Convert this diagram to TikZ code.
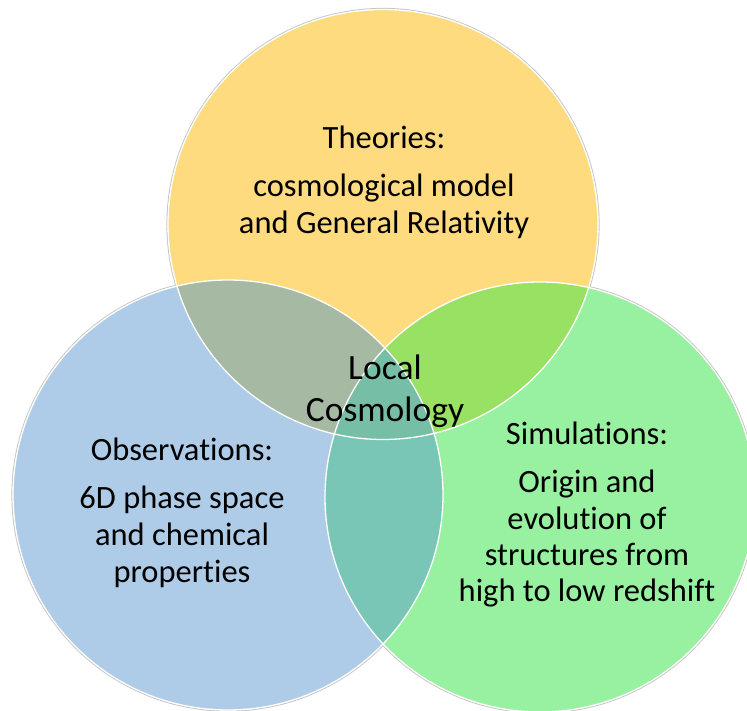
\documentclass[tikz,border=0pt]{standalone}
\usepackage{fontspec}
\setmainfont[Ligatures=NoCommon]{Carlito}
\definecolor{cTheo}{RGB}{255,219,128}
\definecolor{cObs}{RGB}{174,204,232}
\definecolor{cSim}{RGB}{152,241,160}
\definecolor{cTO}{RGB}{166,185,162}
\definecolor{cTS}{RGB}{152,225,98}
\definecolor{cOS}{RGB}{122,198,182}
\definecolor{cAll}{RGB}{118,190,166}
\tikzset{
  ring/.style={draw=black!22, line width=1.2pt},
  rim/.style={draw=white, line width=1.3pt},
  lbl/.style={anchor=base, inner sep=0pt, font=\fontsize{32.5pt}{39pt}\selectfont, text=black},
  mid/.style={lbl, font=\fontsize{35.5pt}{42pt}\selectfont},
}
\newcommand{\rr}{215pt}
\begin{document}
\begin{tikzpicture}[x=1pt,y=-1pt]
  \fill[white] (0,0) rectangle (747,711);
  \useasboundingbox (0,0) rectangle (747,711);
  \coordinate (T) at (383,224.5);
  \coordinate (O) at (228,495);
  \coordinate (S) at (540,497);
  % soft outer edges
  \foreach \c in {T,O,S} \draw[ring] (\c) circle[radius=216pt];
  % plain discs
  \fill[cTheo] (T) circle[radius=\rr];
  \fill[cObs] (O) circle[radius=\rr];
  \fill[cSim] (S) circle[radius=\rr];
  % pairwise overlaps
  \begin{scope}
    \clip (T) circle[radius=\rr];
    \fill[cTO] (O) circle[radius=\rr];
    \fill[cTS] (S) circle[radius=\rr];
  \end{scope}
  \begin{scope}
    \clip (O) circle[radius=\rr];
    \fill[cOS] (S) circle[radius=\rr];
    \clip (S) circle[radius=\rr];
    \fill[cAll] (T) circle[radius=\rr];
  \end{scope}
  % white rims
  \foreach \c in {T,O,S} \draw[rim] (\c) circle[radius=\rr];
  % theories
  \node[lbl] (t1) at (384,149) {Theories:};
  \node[lbl] (t2) at (384,197) {cosmological model};
  \node[lbl] (t3) at (384,234) {and General Relativity};
  % centre
  \node[mid] (c1) at (385,379) {Local};
  \node[mid] (c2) at (385,421) {Cosmology};
  % observations
  \node[lbl] (o1) at (182,460) {Observations:};
  \node[lbl] (o2) at (182,508) {6D phase space};
  \node[lbl] (o3) at (182,545) {and chemical};
  \node[lbl] (o4) at (182,582) {properties};
  % simulations
  \node[lbl] (s1) at (587,444) {Simulations:};
  \node[lbl] (s2) at (587,492) {Origin and};
  \node[lbl] (s3) at (587,529) {evolution of};
  \node[lbl] (s4) at (587,565) {structures from};
  \node[lbl] (s5) at (587,601) {high to low redshift};
\end{tikzpicture}
\end{document}
